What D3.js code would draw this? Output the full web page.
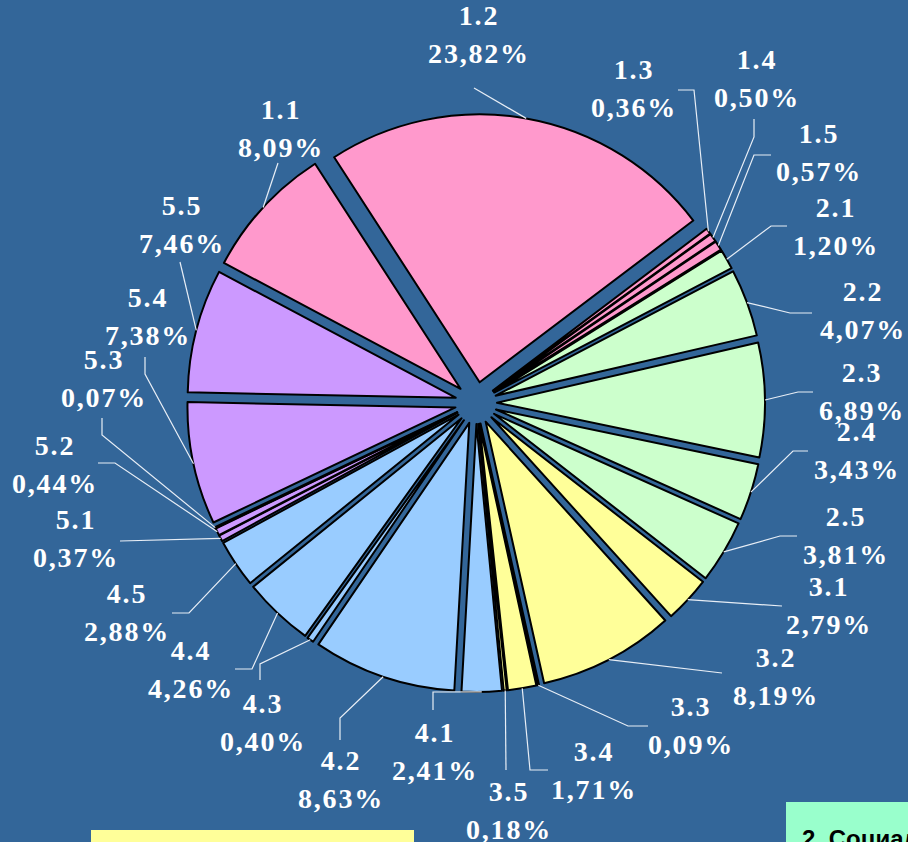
<!DOCTYPE html>
<html>
<head>
<meta charset="utf-8">
<script src="https://cdn.jsdelivr.net/npm/d3@7"></script>
<style>
  html, body { margin: 0; padding: 0; background: #336699; overflow: hidden; }
  svg { display: block; }
  .lbl { font-family: "Liberation Serif", "Times New Roman", "DejaVu Serif", serif; font-weight: bold; font-size: 28px; letter-spacing: 1.8px; fill: #ffffff; }
  .legend-text { font-family: "Liberation Sans", Arial, sans-serif; font-weight: bold; font-size: 24px; fill: #000000; }
</style>
</head>
<body>
<svg id="chart" width="908" height="842"></svg>
<script>
// Budget item codes, clockwise from the first slice
const categories = ["1.1","1.2","1.3","1.4","1.5",
                    "2.1","2.2","2.3","2.4","2.5",
                    "3.1","3.2","3.3","3.4","3.5",
                    "4.1","4.2","4.3","4.4","4.5",
                    "5.1","5.2","5.3","5.4","5.5"];
// Share of each item, percent
const shares = [8.09, 23.82, 0.36, 0.50, 0.57,
                1.20, 4.07, 6.89, 3.43, 3.81,
                2.79, 8.19, 0.09, 1.71, 0.18,
                2.41, 8.63, 0.40, 4.26, 2.88,
                0.37, 0.44, 0.07, 7.38, 7.46];
// Section colours (first digit of the code)
const groupColors = { "1": "#ff99cc", "2": "#ccffcc", "3": "#ffff99", "4": "#99ccff", "5": "#cc99ff" };

// Label block centres and leader-line bends, in drawing order
const labelCenters = [
  [280,128],[478,34],[633,88],[756,78],[818,152],
  [835,226],[862,310],[861,391],[856,450],[845,535],
  [828,605],[775,676],[690,725],[593,770],[508,810],
  [434,751],[340,779],[262,722],[190,669],[126,612],
  [75,538],[54,464],[103,378],[147,316],[181,224]
];
const leaderBends = [
  [[278,163]], [[474,88]], [[694,90],[678,90]], [[754,137],[754,119]], [[754,155],[771,155]],
  [[771,226],[787,226]], [[790,313],[812,313]], [[798,392],[813,392]], [[793,451],[808,451]], [[780,536],[797,536]],
  [[782,606]], [[722,673]], [[628,726],[648,726]], [[530,770],[548,770]], [[506,770]],
  [[433,692],[433,710]], [[340,718],[340,740]], [[260,664],[260,680]], [[252,669],[235,669]], [[189,613],[172,613]],
  [[120,541]], [[115,463],[98,463]], [[102,435],[102,418]], [[145,374],[145,357]], [[180,262]]
];

const svg = d3.select("#chart");
const cx = 476, cy = 403, R = 268, EXPLODE = 21;
const deg = Math.PI / 180;

svg.append("rect").attr("width", 908).attr("height", 842).attr("fill", "#336699");

const pie = d3.pie().sort(null).value(d => d)
  .startAngle(-62 * deg).endAngle(298 * deg);
const arcs = pie(shares);
const arcGen = d3.arc().innerRadius(0).outerRadius(R);
const mid = a => (a.startAngle + a.endAngle) / 2;

const fmt = v => v.toFixed(2).replace(".", ",") + "%";

// Slices, each pushed out along its own bisector
svg.append("g").selectAll("path")
  .data(arcs)
  .join("path")
  .attr("d", arcGen)
  .attr("transform", a => {
    const m = mid(a);
    return `translate(${cx + EXPLODE * Math.sin(m)},${cy - EXPLODE * Math.cos(m)})`;
  })
  .attr("fill", (a, i) => groupColors[categories[i][0]])
  .attr("stroke", "#000")
  .attr("stroke-width", 2)
  .attr("stroke-linejoin", "round");

// Leader lines from the slice rim to each label
const line = d3.line();
svg.append("g").selectAll("path")
  .data(arcs)
  .join("path")
  .attr("d", (a, i) => {
    const m = mid(a);
    const start = [cx + (R + EXPLODE) * Math.sin(m), cy - (R + EXPLODE) * Math.cos(m)];
    return line([start, ...leaderBends[i]]);
  })
  .attr("fill", "none")
  .attr("stroke", "#e8eef6")
  .attr("stroke-width", 1.2);

// Two-line labels: code and share
const lbl = svg.append("g").selectAll("g")
  .data(arcs)
  .join("g")
  .attr("transform", (a, i) => `translate(${labelCenters[i][0]},${labelCenters[i][1]})`);
lbl.append("text").attr("class", "lbl").attr("text-anchor", "middle")
  .attr("x", 1).attr("y", -9).text((a, i) => categories[i]);
lbl.append("text").attr("class", "lbl").attr("text-anchor", "middle")
  .attr("x", 1).attr("y", 29).text((a, i) => fmt(shares[i]));

// Section boxes along the bottom edge
svg.append("rect").attr("x", 91).attr("y", 830).attr("width", 323).attr("height", 40).attr("fill", "#ffff99");
svg.append("rect").attr("x", 786).attr("y", 802).attr("width", 140).attr("height", 60).attr("fill", "#99ffcc");
svg.append("text").attr("class", "legend-text").attr("x", 802).attr("y", 847).text("2. Социальная сфера");
</script>
</body>
</html>
